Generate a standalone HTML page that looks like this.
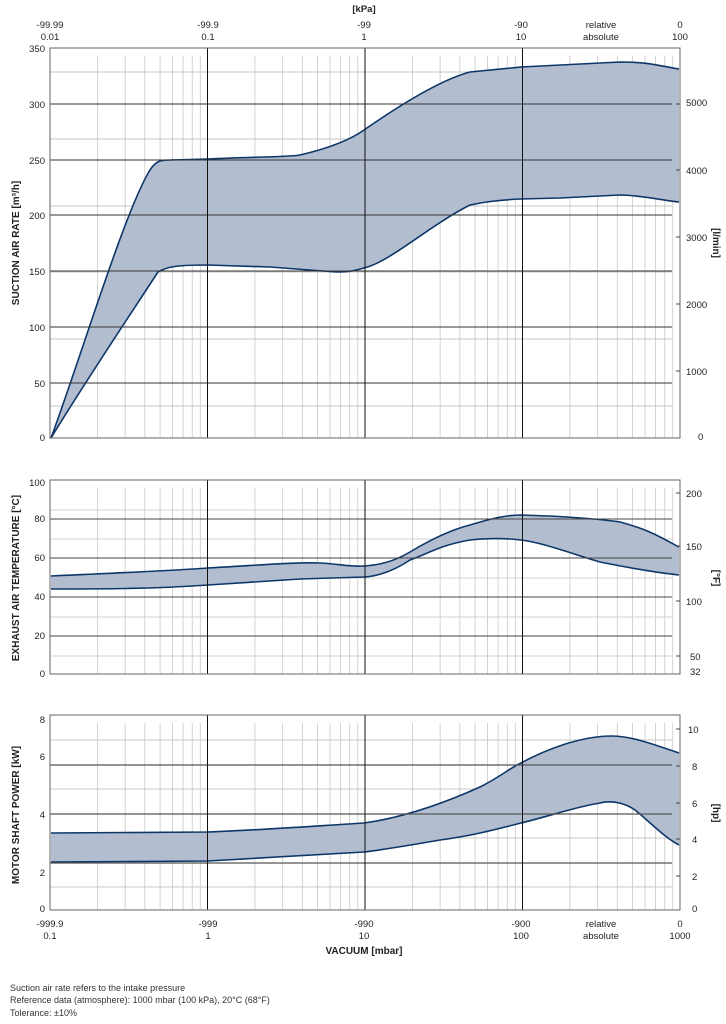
<!DOCTYPE html>
<html><head><meta charset="utf-8"><style>
body{margin:0;background:#fff;}
svg{display:block;font-family:"Liberation Sans",sans-serif;}
</style></head><body>
<svg id="s" width="726" height="1024" viewBox="0 0 726 1024" xmlns="http://www.w3.org/2000/svg">
<g id="grid"></g>
<!-- Panel 1 curves -->
<path d="M51,438 C80,360 125,210 150,170 C156,161 160,160 170,160 L208,159 C250,157 290,157 300,155 C330,148 350,140 364,130 C400,105 440,80 470,72 L521,67 L620,62 C650,62 660,66 679,69 L679,202 C660,200 640,195 620,195 L560,198 L521,199 C495,200 480,203 470,205 C430,225 390,262 364,268 C350,272 345,272 336,272 L270,267 L208,265 C180,265 168,266 158,272 C120,330 80,390 51,438 Z" fill="#b3bdd0" stroke="none"/>
<path d="M51,438 C80,360 125,210 150,170 C156,161 160,160 170,160 L208,159 C250,157 290,157 300,155 C330,148 350,140 364,130 C400,105 440,80 470,72 L521,67 L620,62 C650,62 660,66 679,69" fill="none" stroke="#0d3768" stroke-width="1.6"/>
<path d="M51,438 C80,390 120,330 158,272 C168,266 180,265 208,265 L270,267 L336,272 C345,272 350,272 364,268 C390,262 430,225 470,205 C480,203 495,200 521,199 L560,198 L620,195 C640,195 660,200 679,202" fill="none" stroke="#0d3768" stroke-width="1.6"/>
<!-- Panel 2 -->
<path d="M51,576 C120,573 180,570 208,568 C260,565 300,562 320,563 C340,564 350,567 364,566 C385,565 400,558 410,552 C430,540 450,530 470,525 C490,519 505,515 521,515 C560,516 600,519 620,522 C650,530 660,537 679,547 L679,575 C660,573 630,568 600,562 C570,553 540,542 521,540 C505,538 490,538 470,540 C440,545 425,555 410,560 C395,570 380,576 364,577 L300,579 L208,585 C150,589 100,589 51,589 Z" fill="#b3bdd0"/>
<path d="M51,576 C120,573 180,570 208,568 C260,565 300,562 320,563 C340,564 350,567 364,566 C385,565 400,558 410,552 C430,540 450,530 470,525 C490,519 505,515 521,515 C560,516 600,519 620,522 C650,530 660,537 679,547" fill="none" stroke="#0d3768" stroke-width="1.6"/>
<path d="M51,589 C100,589 150,589 208,585 L300,579 L364,577 C380,576 395,570 410,560 C425,555 440,545 470,540 C490,538 505,538 521,540 C540,542 570,553 600,562 C630,568 660,573 679,575" fill="none" stroke="#0d3768" stroke-width="1.6"/>
<!-- Panel 3 -->
<path d="M51,833 L208,832 C260,830 300,827 364,823 C400,818 440,805 480,787 C500,777 510,768 521,763 C545,750 580,736 612,736 C630,736 650,743 679,753 L679,845 C665,838 650,822 635,810 C625,803 612,800 600,803 C575,807 550,816 521,823 C490,831 470,836 440,840 C400,847 380,850 364,852 L208,861 L51,862 Z" fill="#b3bdd0"/>
<path d="M51,833 L208,832 C260,830 300,827 364,823 C400,818 440,805 480,787 C500,777 510,768 521,763 C545,750 580,736 612,736 C630,736 650,743 679,753" fill="none" stroke="#0d3768" stroke-width="1.6"/>
<path d="M51,862 L208,861 L364,852 C380,850 400,847 440,840 C470,836 490,831 521,823 C550,816 575,807 600,803 C612,800 625,803 635,810 C650,822 665,838 679,845" fill="none" stroke="#0d3768" stroke-width="1.6"/>
<g id="over"></g>
<g font-size="9.5" fill="#222" text-anchor="middle">
<text x="364" y="12" font-weight="bold">[kPa]</text>
<text x="50" y="28">-99.99</text><text x="50" y="40">0.01</text>
<text x="208" y="28">-99.9</text><text x="208" y="40">0.1</text>
<text x="364" y="28">-99</text><text x="364" y="40">1</text>
<text x="521" y="28">-90</text><text x="521" y="40">10</text>
<text x="601" y="28">relative</text><text x="601" y="40">absolute</text>
<text x="680" y="28">0</text><text x="680" y="40">100</text>
<text x="50" y="927">-999.9</text><text x="50" y="939">0.1</text>
<text x="208" y="927">-999</text><text x="208" y="939">1</text>
<text x="364" y="927">-990</text><text x="364" y="939">10</text>
<text x="521" y="927">-900</text><text x="521" y="939">100</text>
<text x="601" y="927">relative</text><text x="601" y="939">absolute</text>
<text x="680" y="927">0</text><text x="680" y="939">1000</text>
<text x="364" y="954" font-weight="bold" font-size="10">VACUUM  [mbar]</text>
</g>
<g font-size="9.5" fill="#222" text-anchor="end">
<text x="45" y="52">350</text><text x="45" y="108">300</text><text x="45" y="164">250</text><text x="45" y="219">200</text><text x="45" y="275">150</text><text x="45" y="331">100</text><text x="45" y="387">50</text><text x="45" y="441">0</text>
<text x="45" y="486">100</text><text x="45" y="522">80</text><text x="45" y="561">60</text><text x="45" y="600">40</text><text x="45" y="639">20</text><text x="45" y="677">0</text>
<text x="45" y="723">8</text><text x="45" y="760">6</text><text x="45" y="818">4</text><text x="45" y="876">2</text><text x="45" y="912">0</text>
</g>
<g font-size="9.5" fill="#222" text-anchor="start">
<text x="686" y="106">5000</text><text x="686" y="174">4000</text><text x="686" y="241">3000</text><text x="686" y="308">2000</text><text x="686" y="375">1000</text><text x="698" y="440">0</text>
<text x="686" y="497">200</text><text x="686" y="550">150</text><text x="686" y="605">100</text><text x="690" y="660">50</text><text x="690" y="675">32</text>
<text x="688" y="733">10</text><text x="692" y="770">8</text><text x="692" y="807">6</text><text x="692" y="843">4</text><text x="692" y="880">2</text><text x="692" y="912">0</text>
</g>
<g font-size="10" font-weight="bold" fill="#222" text-anchor="middle">
<text transform="translate(19,243) rotate(-90)">SUCTION AIR RATE  [m³/h]</text>
<text transform="translate(19,578) rotate(-90)">EXHAUST AIR TEMPERATURE  [°C]</text>
<text transform="translate(19,815) rotate(-90)">MOTOR SHAFT POWER  [kW]</text>
<text transform="translate(713,243) rotate(90)">[l/min]</text>
<text transform="translate(713,578) rotate(90)">[°F]</text>
<text transform="translate(713,813) rotate(90)">[hp]</text>
</g>
<g font-size="9" fill="#333">
<text x="10" y="991">Suction air rate refers to the intake pressure</text>
<text x="10" y="1003">Reference data (atmosphere): 1000 mbar (100 kPa), 20°C (68°F)</text>
<text x="10" y="1016">Tolerance: ±10%</text>
</g>
</svg>
<script>
var NS="http://www.w3.org/2000/svg";
var g=document.getElementById("grid"),o=document.getElementById("over");
function L(p,x1,y1,x2,y2,c,w){var l=document.createElementNS(NS,"line");l.setAttribute("x1",x1);l.setAttribute("y1",y1);l.setAttribute("x2",x2);l.setAttribute("y2",y2);l.setAttribute("stroke",c);l.setAttribute("stroke-width",w);p.appendChild(l);}
var X0=50,D=157.5;
var panels=[[48,438],[480,674],[715,910]];
panels.forEach(function(p){
 for(var d=0;d<4;d++){for(var k=2;k<10;k++){var x=X0+D*(d+Math.log10(k));L(g,x,p[0]+8,x,p[1],"#c8c8c8",0.8);}}
});
[72,139,206,272,339,406].forEach(function(y){L(g,50,y,672,y,"#c4c4c4",0.9);});
[510,539,578,617,656].forEach(function(y){L(g,50,y,672,y,"#d0d0d0",0.9);});
[740,789,838,887].forEach(function(y){L(g,50,y,672,y,"#c8c8c8",0.9);});
[104,160,215,271,327,383].forEach(function(y){L(o,50,y,672,y,"#333",1);});
[519,558,597,636].forEach(function(y){L(o,50,y,672,y,"#444",1);});
[765,814,863].forEach(function(y){L(o,50,y,672,y,"#555",1.2);});
panels.forEach(function(p){
 for(var d=1;d<4;d++){var x=X0+D*d;L(o,x,p[0],x,p[1],"#111",1);}
 var r=document.createElementNS(NS,"rect");r.setAttribute("x",50);r.setAttribute("y",p[0]);r.setAttribute("width",630);r.setAttribute("height",p[1]-p[0]);r.setAttribute("fill","none");r.setAttribute("stroke","#666");r.setAttribute("stroke-width",1);o.appendChild(r);
});
[[104,170,237,304,371],[493,546,601,656],[729,766,803,839,876]].forEach(function(a){a.forEach(function(y){L(o,676,y,680,y,"#444",1);});});
</script>
</body></html>
